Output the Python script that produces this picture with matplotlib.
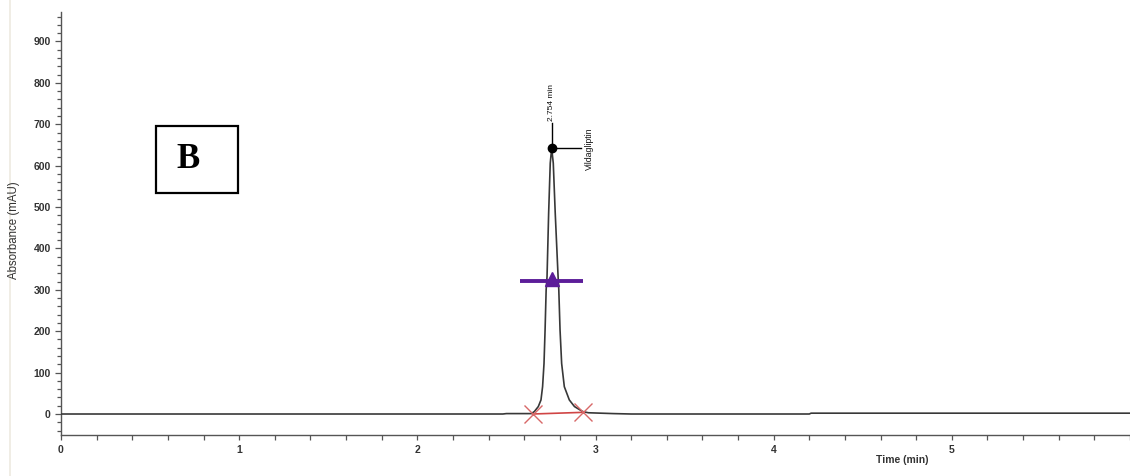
import matplotlib.pyplot as plt
import matplotlib.patches as patches
from matplotlib.lines import Line2D
from matplotlib.ticker import MultipleLocator

plt.rcParams['font.family'] = ['Liberation Sans', 'DejaVu Sans']

# chromatogram trace (time in min, absorbance in mAU)
time_min = [0.0, 2.48, 2.50, 2.64, 2.657, 2.679, 2.694, 2.703, 2.711, 2.717,
            2.723, 2.728, 2.737, 2.746, 2.754, 2.763, 2.774, 2.790, 2.794,
            2.801, 2.810, 2.825, 2.853, 2.882, 2.928, 2.96, 3.10, 3.20,
            4.20, 4.21, 6.0]
absorbance = [0, 0, 1, 1, 6, 18, 34, 66, 122, 203,
              300, 332, 485, 606, 642, 606, 485, 332, 300,
              203, 122, 66, 34, 18, 6, 3, 1, 0,
              0, 2, 2]

# peak annotation values
peak_name = 'Vildagliptin'
peak_rt = 2.754
peak_height = 642
half_height = 321
half_left, half_right = 2.576, 2.932
base_start = (2.647, 0)
base_end = (2.930, 4)

x_major = [0, 1, 2, 3, 4, 5]
y_major = [0, 100, 200, 300, 400, 500, 600, 700, 800, 900]

fig = plt.figure(figsize=(11.3, 4.76), dpi=100)
ax = fig.add_axes([61 / 1130, 41.3 / 476, 1 - 61 / 1130, 0.887])

ax.plot(time_min, absorbance, color='#383838', lw=1.2, zorder=3)

# integration baseline with start/end marks
ax.plot([base_start[0], base_end[0]], [base_start[1], base_end[1]],
        color='#d04545', lw=1.2, zorder=4)
ax.plot([base_start[0], base_end[0]], [base_start[1], base_end[1]],
        ls='none', marker='x', ms=13, mew=1.0, color='#d86868', zorder=4)

# width at half height
ax.plot([half_left, half_right], [half_height, half_height],
        color='#5c1d99', lw=2.8, solid_capstyle='butt', zorder=5)
ax.plot([peak_rt], [half_height + 4], marker='^', ms=10, color='#5c1d99',
        zorder=6)

# apex marker, retention time and peak name
ax.plot([peak_rt, peak_rt], [peak_height, 703], color='black', lw=1.0, zorder=6)
ax.plot([peak_rt, 2.921], [peak_height, peak_height], color='black', lw=1.0,
        zorder=6)
ax.plot([peak_rt], [peak_height], marker='o', ms=6, color='black', zorder=7)
ax.text(peak_rt, 708, f'{peak_rt} min', rotation=90, fontsize=6,
        ha='center', va='bottom', color='#111111')
ax.text(2.966, peak_height, peak_name, rotation=90, fontsize=6.3,
        ha='center', va='center', color='#111111')

ax.set_xlim(0, 6.0)
ax.set_ylim(-50, 970)
ax.set_xticks(x_major)
ax.xaxis.set_minor_locator(MultipleLocator(0.2))
ax.set_yticks(y_major)
ax.yaxis.set_minor_locator(MultipleLocator(20))

for s in ['top', 'right']:
    ax.spines[s].set_visible(False)
for s in ['left', 'bottom']:
    ax.spines[s].set_color('#555555')
    ax.spines[s].set_linewidth(1.0)

ax.tick_params(axis='y', which='major', length=4.3, width=0.9, color='#555555',
               labelsize=7.5, labelcolor='#333333', pad=3)
ax.tick_params(axis='y', which='minor', length=3, width=0.9, color='#555555')
ax.tick_params(axis='x', which='both', length=3.6, width=0.9, color='#555555',
               labelsize=7.5, labelcolor='#333333', pad=4)
for lab in ax.get_xticklabels() + ax.get_yticklabels():
    lab.set_fontweight('bold')

fig.text(14 / 1130, 1 - 230 / 476, 'Absorbance (mAU)', rotation=90,
         fontsize=8.3, ha='center', va='center', color='#333333')
fig.text(902 / 1130, 1 - 460 / 476, 'Time (min)', fontsize=7.5,
         fontweight='bold', ha='center', va='center', color='#333333')

# panel letter in a framed box
fig.add_artist(patches.Rectangle((155.7 / 1130, 1 - 192.7 / 476),
                                 82.6 / 1130, 66.7 / 476,
                                 transform=fig.transFigure, fill=False,
                                 edgecolor='black', lw=1.6))
fig.text(188.3 / 1130, 1 - 160 / 476, 'B', fontsize=25, fontweight='bold',
         family=['Liberation Serif', 'DejaVu Serif'],
         ha='center', va='center', color='black')

# faint page edge on the left
fig.add_artist(Line2D([10 / 1130, 10 / 1130], [0, 1], transform=fig.transFigure,
                      color='#eeeae0', lw=1.2))

fig.savefig('out.png', dpi=100)
